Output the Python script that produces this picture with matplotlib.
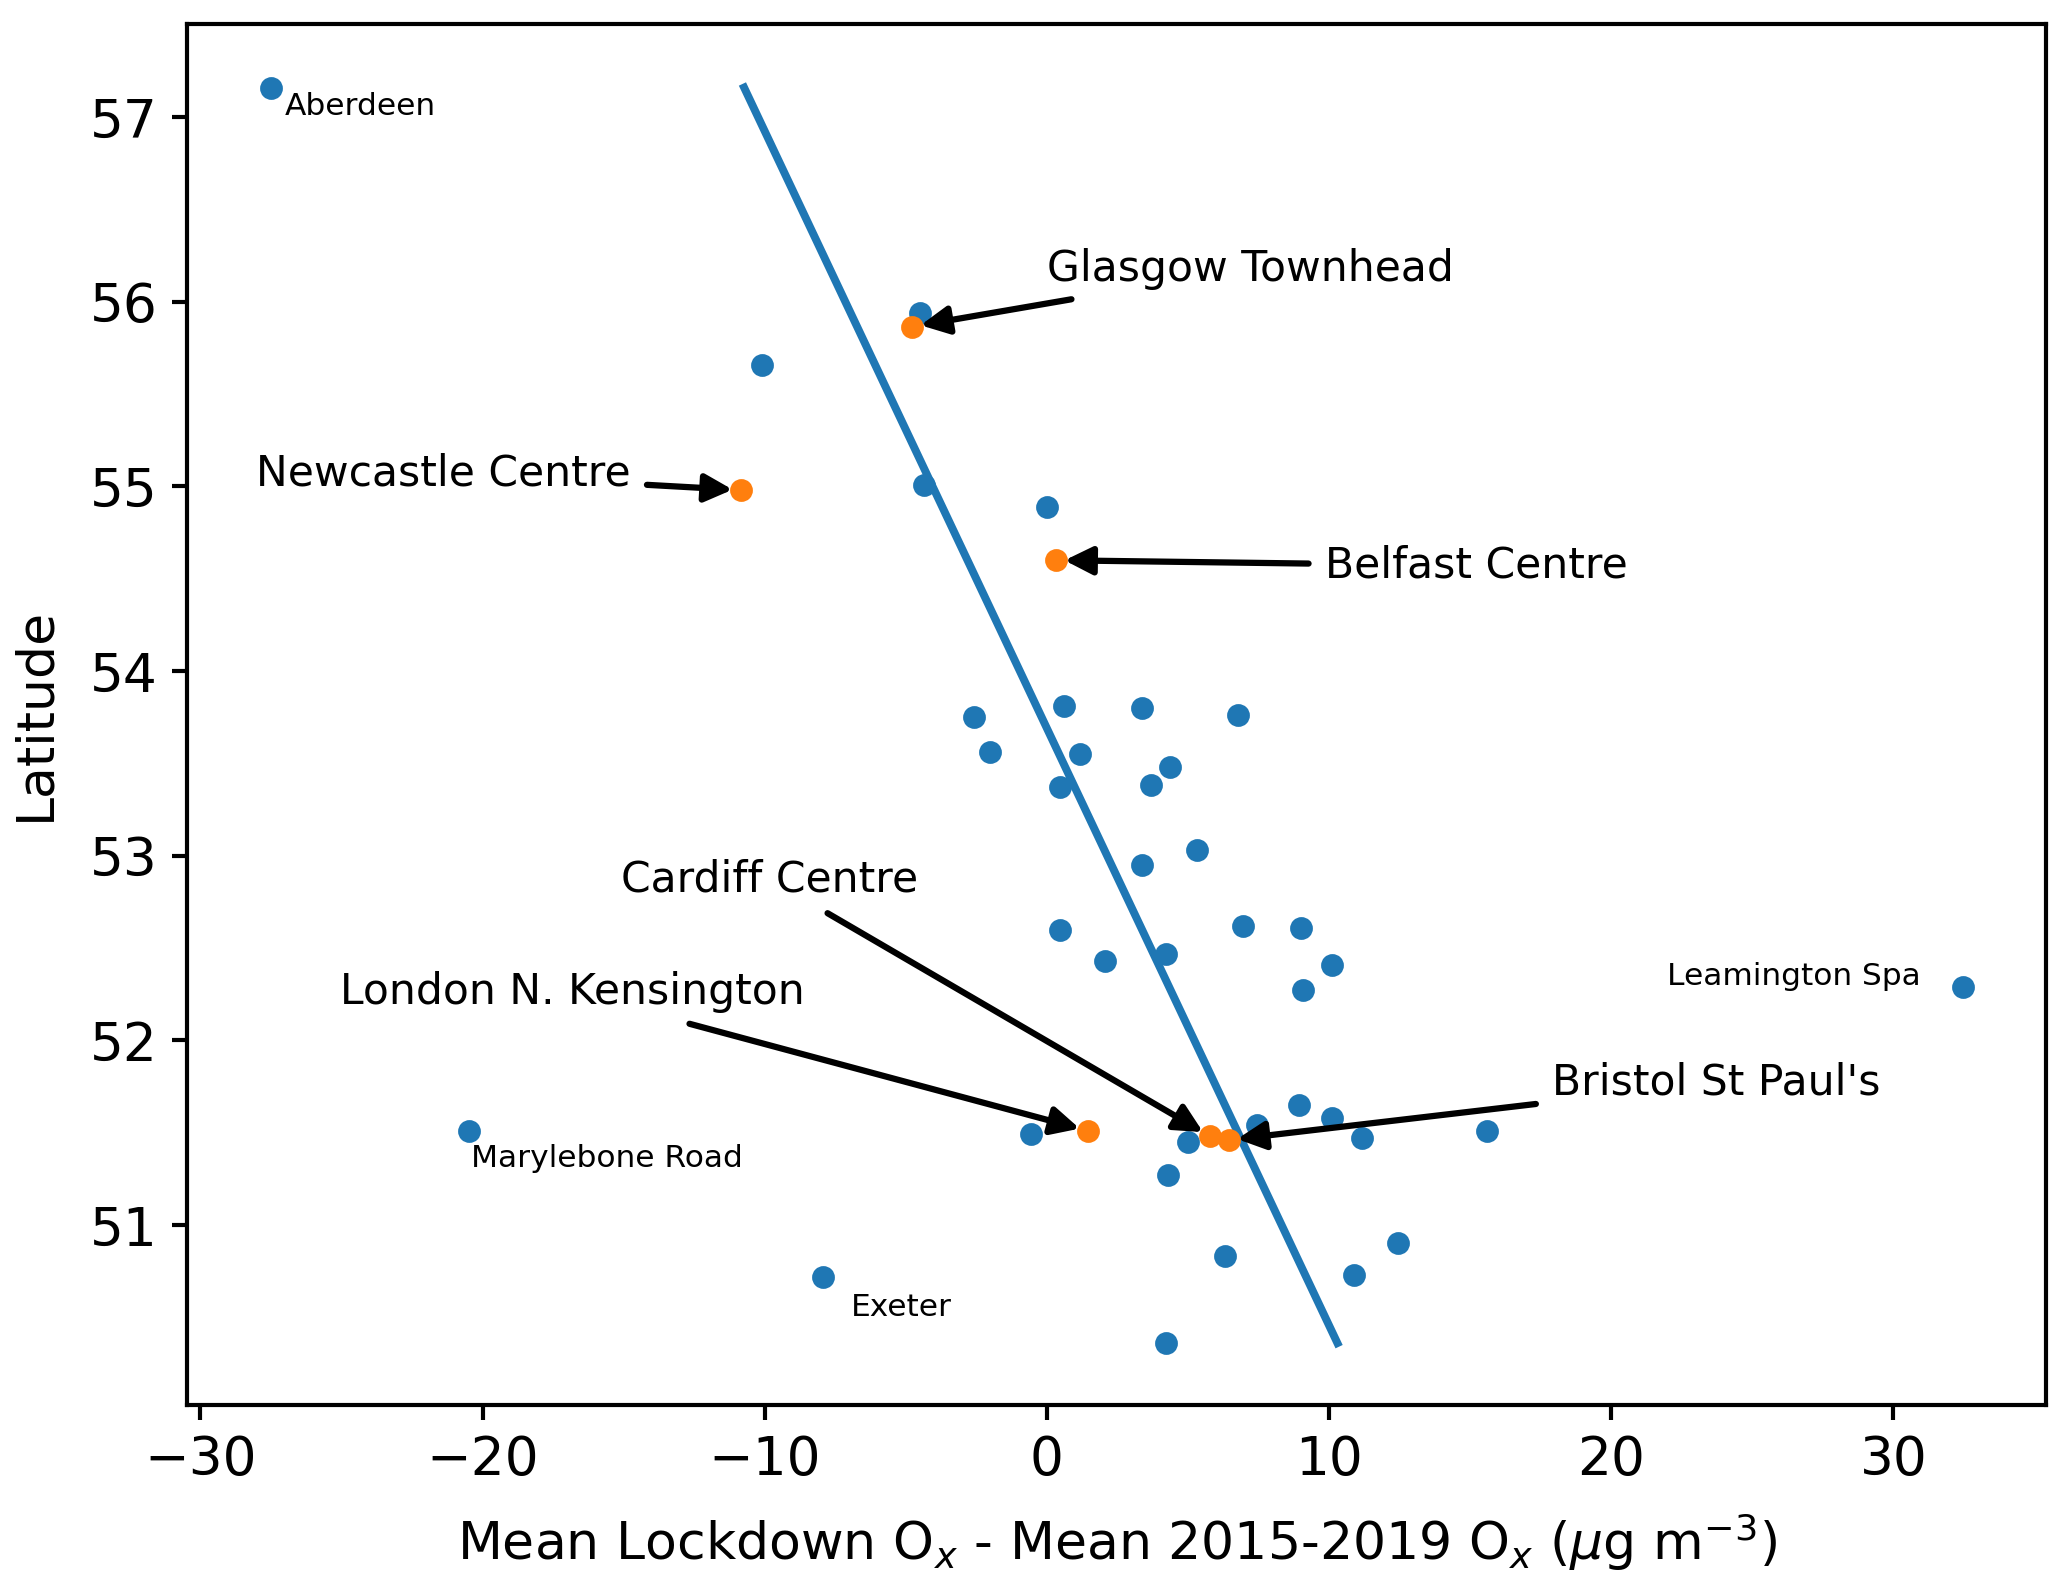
import numpy as np
import matplotlib
matplotlib.use('Agg')
import matplotlib.pyplot as plt

# разность средних Ox (локдаун - 2015-2019) и широта станций
ox_diff = [-27.48, -4.49, -10.09, -4.35, 0.0, -2.57, 0.61, 3.36, 6.78, -2.01,
           1.17, 4.35, 0.47, 3.69, 5.33, 3.36, 0.47, 6.96, 9.02, 2.06,
           4.21, 10.09, 9.07, 32.48, -20.47, -0.56, 5.0, 7.43, 8.93, 10.09,
           11.17, 15.61, 4.30, 6.31, 10.89, 12.43, -7.94, 4.21]
lat = [57.16, 55.94, 55.66, 55.01, 54.89, 53.75, 53.81, 53.80, 53.76, 53.56,
       53.55, 53.48, 53.37, 53.38, 53.03, 52.95, 52.60, 52.62, 52.61, 52.43,
       52.47, 52.41, 52.27, 52.29, 51.51, 51.49, 51.45, 51.54, 51.65, 51.58,
       51.47, 51.51, 51.27, 50.83, 50.73, 50.90, 50.72, 50.36]

# выделенные станции
sel_names = ['Glasgow Townhead', 'Newcastle Centre', 'Belfast Centre',
             'London N. Kensington', 'Cardiff Centre', "Bristol St Paul's"]
sel_ox = [-4.77, -10.84, 0.33, 1.45, 5.79, 6.45]
sel_lat = [55.865, 54.98, 54.60, 51.51, 51.48, 51.46]

# линия регрессии: ox = a * lat + b
fit_a = -3.092
fit_b = 166.01

fig = plt.figure(figsize=(6.89, 5.3067), dpi=300)
ax = fig.add_axes([0.0905, 0.1175, 0.8995, 0.8675])

ax.scatter(ox_diff, lat, s=20, color='#1f77b4', zorder=2)
lat_line = np.array([min(lat), max(lat)])
ax.plot(fit_a * lat_line + fit_b, lat_line, color='#1f77b4', lw=1.9, zorder=3)
ax.scatter(sel_ox, sel_lat, s=20, color='#ff7f0e', zorder=4)

# подписи со стрелками
text_pos = [(7.2, 56.18), (-21.4, 55.07), (15.23, 54.57),
            (-16.82, 52.26), (-9.81, 52.87), (23.74, 51.77)]
for name, x, y, tp in zip(sel_names, sel_ox, sel_lat, text_pos):
    ax.annotate(name, xy=(x, y), xytext=tp, fontsize=10.2,
                ha='center', va='center',
                arrowprops=dict(arrowstyle='-|>', color='black', lw=1.5,
                                mutation_scale=14))

# мелкие подписи
ax.text(-27.0, 57.057, 'Aberdeen', fontsize=7.5, ha='left', va='center')
ax.text(30.98, 52.345, 'Leamington Spa', fontsize=7.5, ha='right', va='center')
ax.text(-20.42, 51.36, 'Marylebone Road', fontsize=7.5, ha='left', va='center')
ax.text(-6.96, 50.555, 'Exeter', fontsize=7.5, ha='left', va='center')

ax.set_xlim(-30.47, 35.42)
ax.set_ylim(50.025, 57.505)
ax.set_xticks([-30, -20, -10, 0, 10, 20, 30])
ax.set_yticks([51, 52, 53, 54, 55, 56, 57])
ax.tick_params(labelsize=12.8, width=1.0, length=3.5)
for sp in ax.spines.values():
    sp.set_linewidth(1.0)
ax.set_xlabel(r'Mean Lockdown O$_x$ - Mean 2015-2019 O$_x$ ($\mu$g m$^{-3}$)',
              fontsize=12.5, labelpad=6)
ax.set_ylabel('Latitude', fontsize=12.5, labelpad=7)

fig.savefig('out.png', dpi=300)
